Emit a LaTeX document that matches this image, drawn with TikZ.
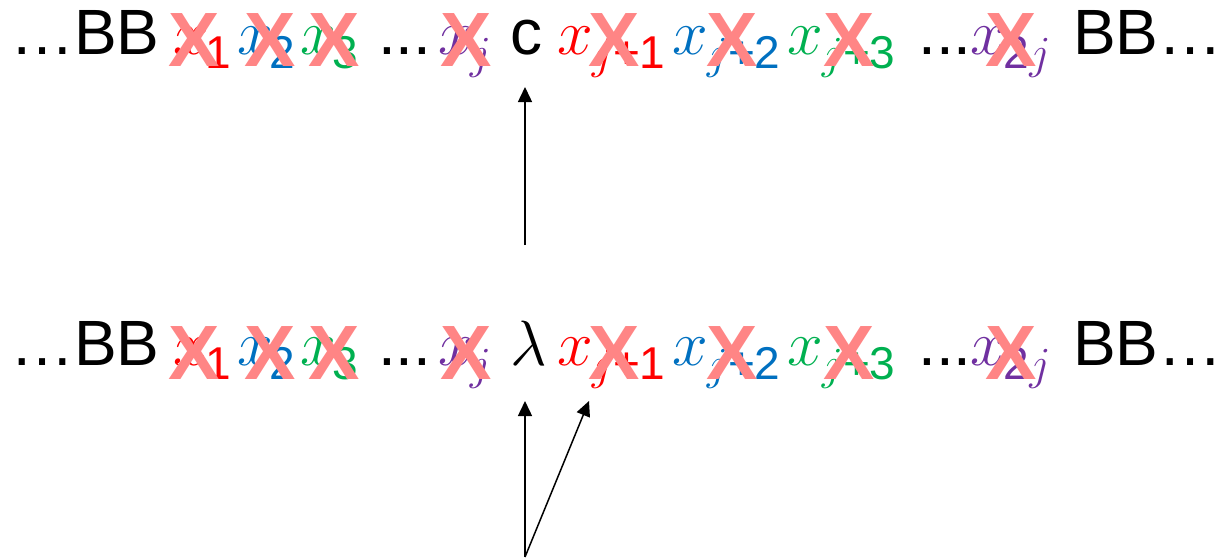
\RequirePackage{fix-cm}
\documentclass[tikz,border=0pt]{standalone}
\usepackage{fontspec}
\setmainfont{Liberation Sans}
\usetikzlibrary{arrows.meta}
\definecolor{xred}{HTML}{FF0000}
\definecolor{xblue}{HTML}{0070C0}
\definecolor{xgreen}{HTML}{00B050}
\definecolor{xpurple}{HTML}{7030A0}
\definecolor{xpink}{HTML}{FF8585}
% x with a large, low subscript
\newcommand{\xs}[2][-1pt]{$x$\kern#1\raisebox{-14pt}{\fontsize{46}{50}\selectfont #2}}
\newcommand{\seqrow}[3]{%
  % #1 prefix, #2 baseline y, #3 middle symbol
  \node[tok] (#1bbl) at (10,#2) {…BB};
  \node[tok,text=xred] (#1x1) at (173,#2) {\xs[-3pt]{1}};
  \node[tok,text=xblue] (#1x2) at (237,#2) {\xs[-3pt]{2}};
  \node[tok,text=xgreen] (#1x3) at (300,#2) {\xs[-3pt]{3}};
  \node[tok] (#1dl) at (378,#2) {...};
  \node[tok,text=xpurple] (#1xj) at (438,#2) {\xs[-4pt]{$j$}};
  \node[tok] (#1mid) at (510,#2) {#3};
  \node[tok,text=xred] (#1xj1) at (557,#2) {\xs{$j$+1}};
  \node[tok,text=xblue] (#1xj2) at (672,#2) {\xs{$j$+2}};
  \node[tok,text=xgreen] (#1xj3) at (787,#2) {\xs{$j$+3}};
  \node[tok] (#1dr) at (918,#2) {...};
  \node[tok,text=xpurple] (#1x2j) at (970,#2) {\xs[-2pt]{2$j$}};
  \node[tok] (#1bbr) at (1073,#2) {BB…};
}
\newcommand{\crossrow}[2]{%
  \foreach \cx [count=\k] in {194,270,334,466,614,732,849,1011}
    \node[cross] (#1c\k) at (\cx,#2) {X};
}
\begin{document}
\begin{tikzpicture}[x=1pt,y=-1pt,
  tok/.style={anchor=base west, inner sep=0pt, font=\fontsize{64}{70}\selectfont},
  cross/.style={anchor=center, inner sep=0pt, text=xpink, font=\fontsize{77}{80}\selectfont\bfseries},
  arr/.style={line width=1.5pt, -{Triangle[length=15pt,width=14pt]}}]
\useasboundingbox (0,0) rectangle (1221,558);
\seqrow{t}{54}{c}
\crossrow{t}{40}
\seqrow{b}{365}{$\lambda$}
\crossrow{b}{353}
\coordinate (s1) at (525,245);
\coordinate (e1) at (525,87);
\coordinate (s2) at (525,557);
\coordinate (e2) at (525,401);
\coordinate (e3) at (589,401);
\draw[arr] (s1) -- (e1);
\draw[arr] (s2) -- (e2);
\draw[arr] (s2) -- (e3);
\end{tikzpicture}
\end{document}
